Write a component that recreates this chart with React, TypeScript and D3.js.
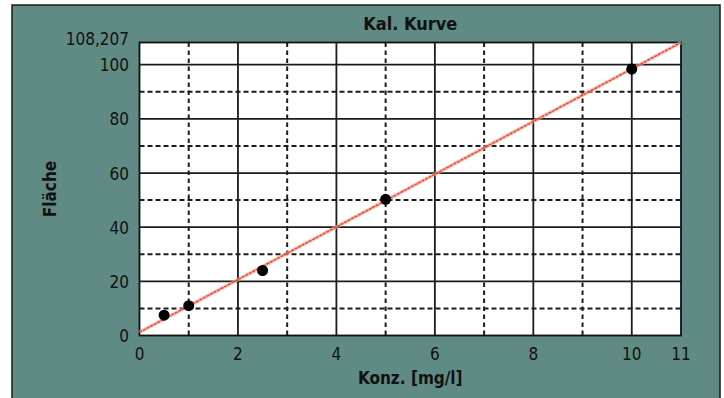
import React, { useRef, useEffect } from 'react';
import * as d3 from 'd3';

const concX = [0.5, 1, 2.5, 5, 10];
const areaY = [7.5, 11, 24, 50.3, 98.4];
const fitX = [0, 11];
const fitY = [1.2, 108.207];
const xMajor = [0, 2, 4, 6, 8, 10, 11];
const xMinor = [1, 3, 5, 7, 9];
const yMajor = [0, 20, 40, 60, 80, 100];
const yMinor = [10, 30, 50, 70, 90];
const yMax = 108.207;

const W = 724;
const H = 398;
const FONT = "'Liberation Sans Narrow', 'DejaVu Sans Condensed', 'Arial Narrow', sans-serif";

const App = () => {
    const ref = useRef<SVGSVGElement>(null);

    useEffect(() => {
        const svg = d3.select(ref.current)
            .attr('width', W)
            .attr('height', H);
        svg.selectAll('*').remove();

        // background frame
        svg.append('rect').attr('width', W).attr('height', H).attr('fill', 'white');
        svg.append('rect')
            .attr('x', 12).attr('y', 5)
            .attr('width', 708).attr('height', H)
            .attr('fill', '#5f8b84')
            .attr('stroke', '#1a1a1a').attr('stroke-width', 1.5);

        const left = 139.5, right = 681, top = 42.5, bottom = 335.5;
        const x = d3.scaleLinear().domain([0, 11]).range([left, right]);
        const y = d3.scaleLinear().domain([0, yMax]).range([bottom, top]);

        svg.append('rect')
            .attr('x', left).attr('y', top)
            .attr('width', right - left).attr('height', bottom - top)
            .attr('fill', 'white');

        const g = svg.append('g');
        // minor dashed grid
        g.selectAll('.vmin').data(xMinor).enter().append('line')
            .attr('x1', d => x(d)).attr('x2', d => x(d))
            .attr('y1', top).attr('y2', bottom)
            .attr('stroke', '#1c1c1c').attr('stroke-width', 2)
            .attr('stroke-dasharray', '4.5,3.5');
        g.selectAll('.hmin').data(yMinor).enter().append('line')
            .attr('x1', left).attr('x2', right)
            .attr('y1', d => y(d)).attr('y2', d => y(d))
            .attr('stroke', '#1c1c1c').attr('stroke-width', 2)
            .attr('stroke-dasharray', '5,3');
        // major solid grid
        g.selectAll('.vmaj').data(xMajor.filter(d => d > 0 && d < 11)).enter().append('line')
            .attr('x1', d => x(d)).attr('x2', d => x(d))
            .attr('y1', top).attr('y2', bottom)
            .attr('stroke', '#1c1c1c').attr('stroke-width', 1.8);
        g.selectAll('.hmaj').data(yMajor.filter(d => d > 0)).enter().append('line')
            .attr('x1', left).attr('x2', right)
            .attr('y1', d => y(d)).attr('y2', d => y(d))
            .attr('stroke', '#1c1c1c').attr('stroke-width', 1.8);

        svg.append('rect')
            .attr('x', left).attr('y', top)
            .attr('width', right - left).attr('height', bottom - top)
            .attr('fill', 'none')
            .attr('stroke', '#111').attr('stroke-width', 1.8);

        // regression line
        const line = d3.line<number>().x((d, i) => x(fitX[i])).y(d => y(d));
        svg.append('path').attr('d', line(fitY))
            .attr('fill', 'none').attr('stroke', '#f3a08f').attr('stroke-width', 3.5).attr('opacity', 0.7);
        svg.append('path').attr('d', line(fitY))
            .attr('fill', 'none').attr('stroke', '#e8402a').attr('stroke-width', 1.3)
            .attr('stroke-dasharray', '3,1');

        // points
        svg.selectAll('.pt').data(concX).enter().append('circle')
            .attr('cx', d => x(d)).attr('cy', (d, i) => y(areaY[i]))
            .attr('r', 5.5).attr('fill', '#000');

        // tick labels
        svg.selectAll('.xl').data(xMajor).enter().append('text')
            .attr('x', d => x(d)).attr('y', 360)
            .attr('text-anchor', 'middle')
            .style('font-family', FONT).style('font-size', '17px').attr('fill', '#111')
            .text(d => d);
        svg.selectAll('.yl').data(yMajor).enter().append('text')
            .attr('x', 129).attr('y', d => y(d) + 6.5)
            .attr('text-anchor', 'end')
            .style('font-family', FONT).style('font-size', '17px').attr('fill', '#111')
            .text(d => d);
        svg.append('text')
            .attr('x', 129).attr('y', top + 2)
            .attr('text-anchor', 'end')
            .style('font-family', FONT).style('font-size', '17px').attr('fill', '#111')
            .text('108,207');

        // titles
        svg.append('text')
            .attr('x', (left + right) / 2).attr('y', 30)
            .attr('text-anchor', 'middle')
            .style('font-family', FONT).style('font-size', '18px').style('font-weight', 'bold')
            .attr('fill', '#111')
            .text('Kal. Kurve');
        svg.append('text')
            .attr('x', (left + right) / 2).attr('y', 384)
            .attr('text-anchor', 'middle')
            .style('font-family', FONT).style('font-size', '17px').style('font-weight', 'bold')
            .attr('fill', '#111')
            .text('Konz. [mg/l]');
        svg.append('text')
            .attr('transform', `translate(56, ${(top + bottom) / 2}) rotate(-90)`)
            .attr('text-anchor', 'middle')
            .style('font-family', FONT).style('font-size', '17px').style('font-weight', 'bold')
            .attr('fill', '#111')
            .text('Fläche');
    }, []);

    return (
        <svg ref={ref} style={{ position: 'absolute', left: 0, top: 0, display: 'block' }}></svg>
    );
};

export default App;
